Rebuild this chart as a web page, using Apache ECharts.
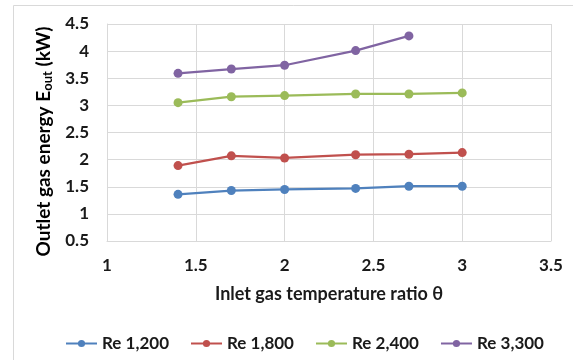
<!DOCTYPE html>
<html>
<head>
<meta charset="utf-8">
<script src="https://cdn.jsdelivr.net/npm/echarts@6/dist/echarts.min.js"></script>
<style>
html,body{margin:0;padding:0;background:#fff;}
#c{width:573px;height:360px;}
</style>
</head>
<body>
<div id="c"></div>
<script>
var thetaRatio = [1.4, 1.7, 2.0, 2.4, 2.7, 3.0];
var re1200 = [1.36, 1.43, 1.45, 1.47, 1.51, 1.51];
var re1800 = [1.89, 2.07, 2.03, 2.09, 2.10, 2.13];
var re2400 = [3.05, 3.16, 3.18, 3.21, 3.21, 3.23];
var re3300 = [3.59, 3.67, 3.74, 4.01, 4.28];
var seriesNames = ['Re 1,200', 'Re 1,800', 'Re 2,400', 'Re 3,300'];
var seriesValues = [re1200, re1800, re2400, re3300];
var colors = ['#4F81BD', '#C0504D', '#9BBB59', '#8064A2'];
var FONT = 'Lato';
var TXT = '#1a1a1a';

function pairs(xs, ys) {
  return ys.map(function (v, i) { return [xs[i], v]; });
}

var chart = echarts.init(document.getElementById('c'), null, {renderer: 'canvas'});
chart.setOption({
  animation: false,
  backgroundColor: '#fff',
  color: colors,
  textStyle: {fontFamily: FONT},
  graphic: [{
    type: 'rect',
    shape: {x: 13.5, y: 5.5, width: 600, height: 400},
    style: {fill: 'none', stroke: '#d9d9d9', lineWidth: 1},
    silent: true, z: -1
  }],
  grid: {left: 107, top: 24, right: 22, bottom: 119},
  legend: {
    left: 60, top: 330,
    itemWidth: 31, itemHeight: 9, itemGap: 21,
    textStyle: {fontFamily: FONT, fontSize: 17, fontWeight: 'bold', color: TXT},
    data: seriesNames
  },
  xAxis: {
    type: 'value', min: 1, max: 3.5, interval: 0.5,
    name: 'Inlet gas temperature ratio θ',
    nameLocation: 'middle', nameGap: 44,
    nameTextStyle: {fontFamily: FONT, fontSize: 18, fontWeight: 'bold', color: TXT},
    axisLine: {show: true, lineStyle: {color: '#d9d9d9'}},
    axisTick: {show: false},
    axisLabel: {fontFamily: FONT, fontSize: 17, fontWeight: 'bold', color: TXT, margin: 16},
    splitLine: {show: true, lineStyle: {color: '#d9d9d9', width: 1}}
  },
  yAxis: {
    type: 'value', min: 0.5, max: 4.5, interval: 0.5,
    name: '{a|Outlet gas energy E}{s|out}{a| (kW)}',
    nameLocation: 'middle', nameGap: 47, nameRotate: 90,
    nameTextStyle: {
      padding: [0, 18, 0, 0],
      rich: {
        a: {fontFamily: FONT, fontSize: 19, fontWeight: 'bold', color: '#000'},
        s: {fontFamily: FONT, fontSize: 13, fontWeight: 'bold', color: '#000', verticalAlign: 'bottom', padding: [8,0,0,0]}
      }
    },
    axisLine: {show: true, lineStyle: {color: '#d9d9d9'}},
    axisTick: {show: false},
    axisLabel: {fontFamily: FONT, fontSize: 17, fontWeight: 'bold', color: TXT, margin: 18},
    splitLine: {show: true, lineStyle: {color: '#d9d9d9', width: 1}}
  },
  series: seriesNames.map(function (n, i) {
    return {
      name: n, type: 'line',
      data: pairs(thetaRatio, seriesValues[i]),
      symbol: 'circle', symbolSize: 9,
      lineStyle: {width: 2.25, color: colors[i]},
      itemStyle: {color: colors[i]}
    };
  })
});
</script>
</body>
</html>
